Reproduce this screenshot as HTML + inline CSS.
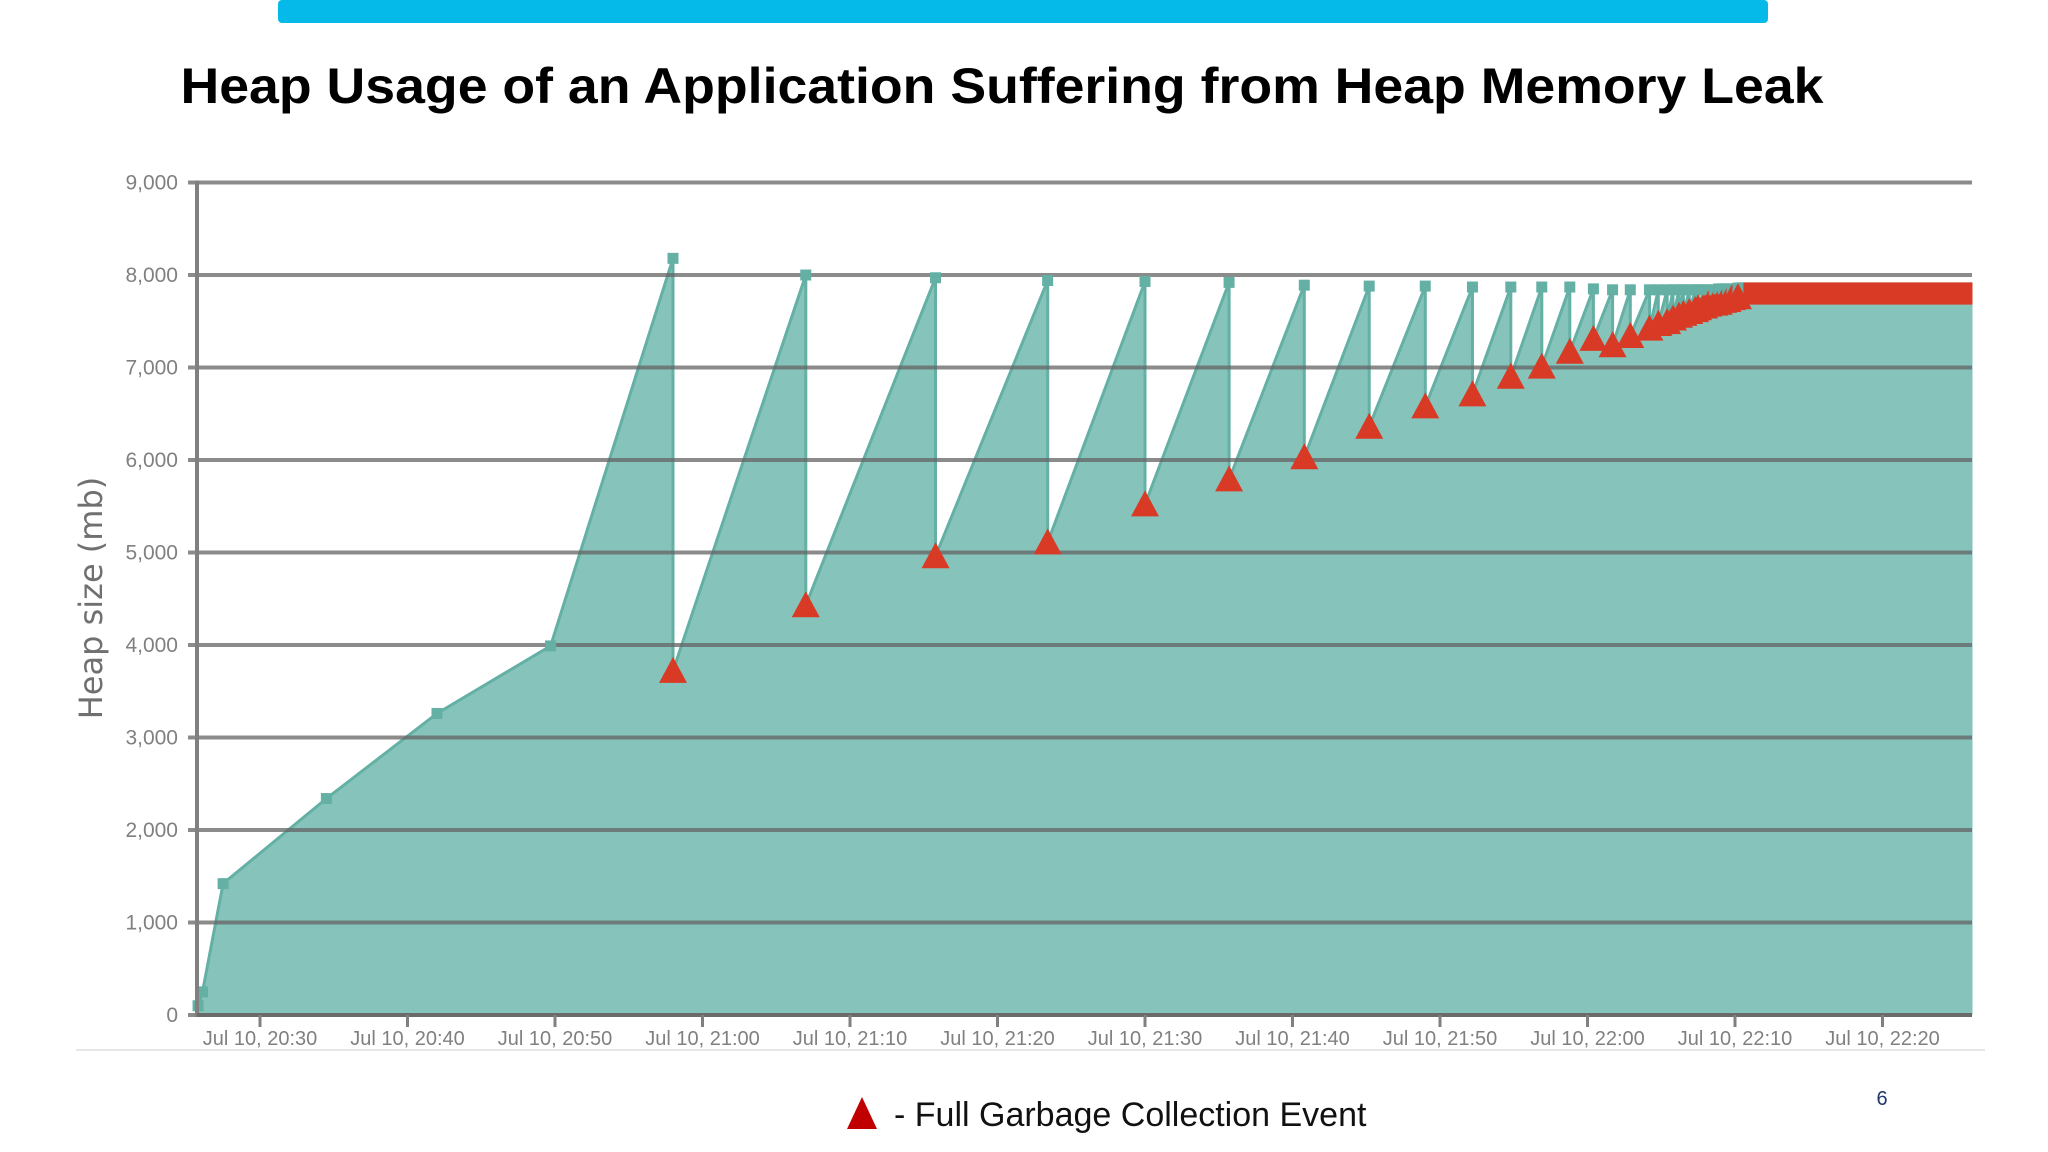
<!DOCTYPE html>
<html><head><meta charset="utf-8">
<style>
html,body{margin:0;padding:0;background:#fff;}
svg{display:block;}
text{font-family:"Liberation Sans","DejaVu Sans",sans-serif;}
</style></head>
<body>
<svg id="chart" width="2048" height="1152" viewBox="0 0 2048 1152" xmlns="http://www.w3.org/2000/svg">
  <rect x="278" y="0" width="1490" height="23" rx="4" fill="#05b9e8"/>
  <text x="1002" y="103" text-anchor="middle" font-size="50" font-weight="bold" fill="#000" textLength="1643" lengthAdjust="spacingAndGlyphs">Heap Usage of an Application Suffering from Heap Memory Leak</text>
  <g id="area-layer"></g>
  <g id="grid-layer"></g>
  <g id="marker-layer"></g>
  <g id="axis-layer"></g>
  <text transform="translate(102,598) rotate(-90)" text-anchor="middle" font-size="32" fill="#707070" style="font-family:'DejaVu Sans',sans-serif">Heap size (mb)</text>
  <line x1="76" y1="1050" x2="1985" y2="1050" stroke="#e6e6e6" stroke-width="2"/>
  <polygon points="862,1097 847,1129 877,1129" fill="#c00000"/>
  <text x="894" y="1126" font-size="34" fill="#111">- Full Garbage Collection Event</text>
  <text x="1882" y="1105" font-size="20" fill="#1f3864" text-anchor="middle">6</text>
</svg>
<script>
// Data (minutes after 20:30, heap mb)
const rampMin = [-4.2, -3.9, -2.5, 4.5, 12, 19.7];
const rampVal = [100, 250, 1420, 2340, 3260, 3990];
const cycleMin = [28, 37.0, 45.8, 53.4, 60.0, 65.7, 70.8, 75.2, 79.0, 82.2, 84.8, 86.9, 88.8, 90.4, 91.7, 92.9,
  94.2, 94.8, 95.4, 95.8, 96.2, 96.5, 96.9, 97.3, 97.5, 97.9, 98.2, 98.6, 98.9, 99.2, 99.5, 99.8, 100.2];
const peakVal = [8180, 8000, 7970, 7940, 7930, 7920, 7890, 7880, 7880, 7870, 7870, 7870, 7870, 7850, 7840, 7840,
  7840, 7840, 7840, 7840, 7840, 7840, 7840, 7840, 7840, 7840, 7840, 7840, 7850, 7850, 7850, 7850, 7860];
const gcVal = [3720, 4430, 4960, 5110, 5520, 5790, 6030, 6360, 6580, 6710, 6900, 7010, 7170, 7310, 7240, 7340,
  7420, 7470, 7490, 7530, 7560, 7580, 7600, 7620, 7640, 7660, 7680, 7690, 7700, 7720, 7730, 7750, 7760];
const bandMin = [100.2, 116.1];
const bandTop = [7920, 7920];
const bandBottom = [7680, 7680];
const yTicks = [0, 1000, 2000, 3000, 4000, 5000, 6000, 7000, 8000, 9000];
const yTickLabels = ["0", "1,000", "2,000", "3,000", "4,000", "5,000", "6,000", "7,000", "8,000", "9,000"];
const xTicks = [0, 10, 20, 30, 40, 50, 60, 70, 80, 90, 100, 110];
const xTickLabels = ["Jul 10, 20:30", "Jul 10, 20:40", "Jul 10, 20:50", "Jul 10, 21:00", "Jul 10, 21:10", "Jul 10, 21:20",
  "Jul 10, 21:30", "Jul 10, 21:40", "Jul 10, 21:50", "Jul 10, 22:00", "Jul 10, 22:10", "Jul 10, 22:20"];

const NS = "http://www.w3.org/2000/svg";
const X0 = 260, PXMIN = 14.75, Y0 = 1015, PXMB = 0.0925;
const PL = 197, PR = 1972;
function xs(m){ return X0 + m * PXMIN; }
function ys(v){ return Y0 - v * PXMB; }
function mk(tag, attrs, parent){ const e = document.createElementNS(NS, tag); for (const k in attrs) e.setAttribute(k, attrs[k]); parent.appendChild(e); return e; }

const areaG = document.getElementById('area-layer');
const gridG = document.getElementById('grid-layer');
const markG = document.getElementById('marker-layer');
const axisG = document.getElementById('axis-layer');

let pts = [];
for (let i = 0; i < rampMin.length; i++) pts.push([xs(rampMin[i]), ys(rampVal[i])]);
for (let i = 0; i < cycleMin.length; i++) { pts.push([xs(cycleMin[i]), ys(peakVal[i])]); pts.push([xs(cycleMin[i]), ys(gcVal[i])]); }
pts.push([xs(bandMin[0]), ys(bandBottom[0])]);
pts.push([xs(bandMin[1]), ys(bandBottom[1])]);
let d = "M" + pts[0][0] + "," + Y0 + " " + pts.map(p => "L" + p[0].toFixed(1) + "," + p[1].toFixed(1)).join(" ") + " L" + xs(bandMin[1]) + "," + Y0 + " Z";
const area = mk('path', {d: d, fill: '#86c4bb', stroke: 'none'}, areaG);


const line = mk('path', {d: "M" + pts.map(p => p[0].toFixed(1) + "," + p[1].toFixed(1)).join(" L"), fill: 'none', stroke: '#64b0a4', 'stroke-width': 3}, areaG);


const bandA = mk('rect', {x: xs(bandMin[0]), y: ys(bandTop[0]), width: xs(bandMin[1]) - xs(bandMin[0]), height: Y0 - ys(bandTop[0]), fill: '#86c4bb'}, areaG);



yTicks.forEach((v, i) => {
  const g = mk('line', {x1: 188, x2: PR, y1: ys(v), y2: ys(v), stroke: 'rgba(100,100,100,0.75)', 'stroke-width': 4}, gridG);
  
  
  const t = mk('text', {x: 178, y: ys(v) + 7, 'text-anchor': 'end', 'font-size': 21, fill: '#808080'}, axisG);
  t.textContent = yTickLabels[i];
  
  
});

const sq = 11;
rampMin.forEach((m, i) => {
  const r = mk('rect', {x: xs(m) - sq/2, y: ys(rampVal[i]) - sq/2, width: sq, height: sq, fill: '#64b0a4'}, markG);
  
  
});
const band = mk('rect', {x: xs(bandMin[0]), y: ys(bandTop[0]), width: xs(bandMin[1]) - xs(bandMin[0]), height: ys(bandBottom[0]) - ys(bandTop[0]), fill: '#d93a25'}, markG);


cycleMin.forEach((m, i) => {
  const x = xs(m);
  const r = mk('rect', {x: x - sq/2, y: ys(peakVal[i]) - sq/2, width: sq, height: sq, fill: '#64b0a4'}, markG);
  
  
  const yc = ys(gcVal[i]);
  const tri = mk('polygon', {points: `${x},${yc - 14} ${x - 14},${yc + 12} ${x + 14},${yc + 12}`, fill: '#d93a25'}, markG);
  
  
});

const yAx = mk('line', {x1: PL, x2: PL, y1: ys(9000) - 2, y2: Y0 + 2, stroke: '#808080', 'stroke-width': 4}, axisG);


const xAx = mk('line', {x1: PL, x2: PR, y1: Y0, y2: Y0, stroke: '#6a6a6a', 'stroke-width': 4}, axisG);


xTicks.forEach((m, i) => {
  const tk = mk('line', {x1: xs(m), x2: xs(m), y1: Y0, y2: Y0 + 12, stroke: '#808080', 'stroke-width': 3}, axisG);
  
  
  const t = mk('text', {x: xs(m), y: Y0 + 30, 'text-anchor': 'middle', 'font-size': 20, fill: '#808080'}, axisG);
  t.textContent = xTickLabels[i];
  
  
});
</script>
</body></html>
